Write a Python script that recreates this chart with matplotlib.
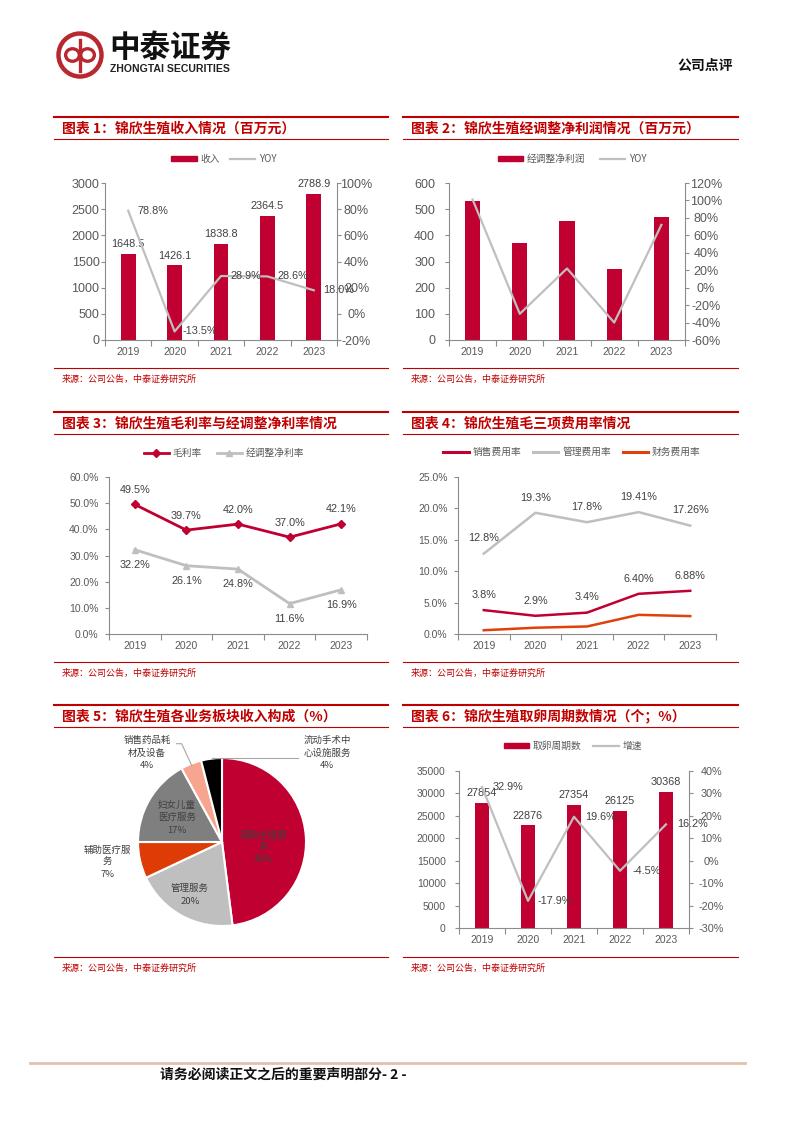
import numpy as np
import matplotlib
matplotlib.use("Agg")
import matplotlib.pyplot as plt
from matplotlib.patches import Patch, Circle, Ellipse
from matplotlib.lines import Line2D

plt.rcParams['font.family'] = ['Liberation Sans', 'Noto Sans CJK SC', 'DejaVu Sans']
CJK = ['Noto Sans CJK SC', 'DejaVu Sans']

W, H = 793, 1122
RED = '#C00030'
DARKRED = '#C00000'
GRAY = '#BFBFBF'
ORANGE = '#E0400A'
TXT = '#404040'
TICK = '#595959'
SPINE = '#8C8C8C'

years = ['2019', '2020', '2021', '2022', '2023']

# 图表1 收入
revenue = [1648.5, 1426.1, 1838.8, 2364.5, 2788.9]
revenue_yoy = [78.8, -13.5, 28.9, 28.6, 18.0]
# 图表2 经调整净利润（无标签，按图读数）
adj_profit = [530, 370, 455, 272, 470]
adj_profit_yoy = [101, -30, 22, -40, 72]
# 图表3
gross_margin = [49.5, 39.7, 42.0, 37.0, 42.1]
adj_net_margin = [32.2, 26.1, 24.8, 11.6, 16.9]
# 图表4
sales_rate = [3.8, 2.9, 3.4, 6.40, 6.88]
sales_lbl = ['3.8%', '2.9%', '3.4%', '6.40%', '6.88%']
admin_rate = [12.8, 19.3, 17.8, 19.41, 17.26]
admin_lbl = ['12.8%', '19.3%', '17.8%', '19.41%', '17.26%']
fin_rate = [0.6, 1.0, 1.2, 3.05, 2.85]
# 图表5
seg_names = ['辅助生殖服\n务', '管理服务', '辅助医疗服\n务', '妇女儿童\n医疗服务',
             '销售药品耗\n材及设备', '流动手术中\n心设施服务']
seg_share = [48, 20, 7, 17, 4, 4]
seg_colors = [RED, GRAY, '#DD3C06', '#7F7F7F', '#F7A58E', '#000000']
# 图表6
cycles = [27854, 22876, 27354, 26125, 30368]
cycles_yoy = [32.9, -17.9, 19.6, -4.5, 16.2]

fig = plt.figure(figsize=(W / 100, H / 100), dpi=100)


def px_axes(x0, y0, x1, y1):
    return fig.add_axes([x0 / W, 1 - y1 / H, (x1 - x0) / W, (y1 - y0) / H])


def hline(x0, x1, y, color, lw):
    fig.add_artist(Line2D([x0 / W, x1 / W], [1 - y / H, 1 - y / H],
                          color=color, lw=lw, transform=fig.transFigure))


def ftext(x, y, s, **kw):
    return fig.text(x / W, 1 - y / H, s, **kw)


def panel(x0, x1, ytop, title, ysrc):
    hline(x0, x1, ytop, DARKRED, 1.5)
    ftext(x0 + 8, ytop + 11, title, color=DARKRED, fontsize=10, fontweight='bold',
          family=CJK, va='center')
    hline(x0, x1, ytop + 22, DARKRED, 0.8)
    hline(x0, x1, ysrc, DARKRED, 0.8)
    ftext(x0 + 8, ysrc + 11, '来源：公司公告，中泰证券研究所', color=DARKRED,
          fontsize=6.5, family=CJK, va='center')


def legend(handles, labels, cx, cy, gap):
    fig.legend(handles, labels, loc='center', bbox_to_anchor=(cx / W, 1 - cy / H),
               ncol=len(handles), frameon=False, handlelength=2.6, handleheight=0.5,
               handletextpad=0.4, columnspacing=gap,
               prop={'family': CJK, 'size': 7}, labelcolor=TICK)


def style_x(ax):
    ax.set_xlim(-0.5, 4.5)
    ax.set_xticks(np.arange(-0.5, 5, 1))
    ax.set_xticklabels([])
    ax.set_xticks(range(5), minor=True)
    ax.set_xticklabels(years, minor=True)
    ax.tick_params(axis='x', which='major', length=4, color=SPINE, direction='out')
    ax.tick_params(axis='x', which='minor', length=0, pad=5, labelsize=7.5,
                   labelcolor=TICK)
    ax.spines['top'].set_visible(False)
    ax.spines['bottom'].set_color(SPINE)
    ax.spines['left'].set_color(SPINE)
    ax.spines['right'].set_visible(False)
    ax.patch.set_alpha(0)


def style_y(ax, ticks, labels, pad, size=7.5):
    ax.set_yticks(ticks)
    ax.set_yticklabels(labels)
    ax.tick_params(axis='y', length=3, color=SPINE, pad=pad, labelsize=size,
                   labelcolor=TICK)


def style_right(ax, ticks, labels, size=7.5, pad=12):
    ax.set_yticks(ticks)
    ax.set_yticklabels(labels, ha='center')
    ax.tick_params(axis='y', length=3, color=SPINE, pad=pad, labelsize=size,
                   labelcolor=TICK)
    for s in ['top', 'left', 'bottom']:
        ax.spines[s].set_visible(False)
    ax.spines['right'].set_color(SPINE)


# ---------------- 页眉 ----------------
lg = px_axes(55, 30, 105, 80)
lg.set_xlim(-1, 1)
lg.set_ylim(-1, 1)
lg.set_aspect('equal')
lg.axis('off')
lg.add_patch(Circle((0, 0), 0.86, fill=False, lw=3.2, ec='#B8282E'))
lg.add_patch(Ellipse((-0.3, 0), 0.55, 0.5, fill=False, lw=2.4, ec='#B8282E'))
lg.add_patch(Ellipse((0.3, 0), 0.55, 0.5, fill=False, lw=2.4, ec='#B8282E'))
lg.plot([0, 0], [-0.62, 0.62], color='#B8282E', lw=2.4)
ftext(109, 48, '中泰证券', fontsize=22, fontweight='bold', family=CJK, va='center',
      color='#111111')
ftext(110, 69, 'ZHONGTAI SECURITIES', fontsize=7.6, fontweight='bold', va='center',
      color='#222222')
ftext(705, 66, '公司点评', fontsize=10, fontweight='bold', family=CJK, va='center',
      ha='center', color='#111111')

# ---------------- 图表1 ----------------
panel(54, 388, 117, '图表 1：锦欣生殖收入情况（百万元）', 368)
ax1 = px_axes(105, 183, 337, 340)
ax1.bar(range(5), revenue, width=0.32, color=RED)
ax1.set_ylim(0, 3000)
style_x(ax1)
style_y(ax1, range(0, 3001, 500), [str(t) for t in range(0, 3001, 500)], 1, 9)
for i, v in enumerate(revenue):
    ax1.annotate(f'{v:.1f}', (i, v), xytext=(0, 3.5), textcoords='offset points',
                 ha='center', va='bottom', fontsize=7.8, color=TXT)
ax1r = ax1.twinx()
ax1r.plot(range(5), revenue_yoy, color=GRAY, lw=1.6)
ax1r.set_ylim(-20, 100)
style_right(ax1r, range(-20, 101, 20), [f'{t}%' for t in range(-20, 101, 20)], 9, 11)
for i, v in enumerate(revenue_yoy):
    ax1r.annotate(f'{v:.1f}%', (i, v), xytext=(18, 0), textcoords='offset points',
                  ha='center', va='center', fontsize=7.8, color=TXT)
legend([Patch(color=RED), Line2D([0], [0], color=GRAY, lw=1.6)], ['收入', 'YOY'],
       224, 159, 1.0)

# ---------------- 图表2 ----------------
panel(403, 738, 117, '图表 2：锦欣生殖经调整净利润情况（百万元）', 368)
ax2 = px_axes(449, 183, 685, 340)
ax2.bar(range(5), adj_profit, width=0.32, color=RED)
ax2.set_ylim(0, 600)
style_x(ax2)
style_y(ax2, range(0, 601, 100), [str(t) for t in range(0, 601, 100)], 7, 9)
ax2r = ax2.twinx()
ax2r.plot(range(5), adj_profit_yoy, color=GRAY, lw=1.6)
ax2r.set_ylim(-60, 120)
style_right(ax2r, range(-60, 121, 20), [f'{t}%' for t in range(-60, 121, 20)], 9, 12)
legend([Patch(color=RED), Line2D([0], [0], color=GRAY, lw=1.6)], ['经调整净利润', 'YOY'],
       572, 159, 1.5)

# ---------------- 图表3 ----------------
panel(54, 388, 412, '图表 3：锦欣生殖毛利率与经调整净利率情况', 662)
ax3 = px_axes(109, 477, 367, 634)
ax3.plot(range(5), gross_margin, color=RED, lw=2, marker='D', markersize=4.5)
ax3.plot(range(5), adj_net_margin, color=GRAY, lw=2, marker='^', markersize=5)
ax3.set_ylim(0, 60)
style_x(ax3)
style_y(ax3, range(0, 61, 10), [f'{t:.1f}%' for t in range(0, 61, 10)], 4.5)
for i, v in enumerate(gross_margin):
    ax3.annotate(f'{v:.1f}%', (i, v), xytext=(0, 10.5), textcoords='offset points',
                 ha='center', va='center', fontsize=7.8, color=TXT)
for i, v in enumerate(adj_net_margin):
    ax3.annotate(f'{v:.1f}%', (i, v), xytext=(0, -11), textcoords='offset points',
                 ha='center', va='center', fontsize=7.8, color=TXT)
legend([Line2D([0], [0], color=RED, lw=2, marker='D', markersize=4),
        Line2D([0], [0], color=GRAY, lw=2, marker='^', markersize=4.5)],
       ['毛利率', '经调整净利率'], 224, 453, 1.5)

# ---------------- 图表4 ----------------
panel(403, 738, 412, '图表 4：锦欣生殖毛三项费用率情况', 662)
ax4 = px_axes(458, 477, 716, 634)
ax4.plot(range(5), sales_rate, color=RED, lw=1.8)
ax4.plot(range(5), admin_rate, color=GRAY, lw=1.8)
ax4.plot(range(5), fin_rate, color=ORANGE, lw=1.8)
ax4.set_ylim(0, 25)
style_x(ax4)
style_y(ax4, range(0, 26, 5), [f'{t:.1f}%' for t in range(0, 26, 5)], 4.5)
for i, v in enumerate(sales_rate):
    ax4.annotate(sales_lbl[i], (i, v), xytext=(0, 11), textcoords='offset points',
                 ha='center', va='center', fontsize=7.8, color=TXT)
for i, v in enumerate(admin_rate):
    ax4.annotate(admin_lbl[i], (i, v), xytext=(0, 11), textcoords='offset points',
                 ha='center', va='center', fontsize=7.8, color=TXT)
legend([Line2D([0], [0], color=RED, lw=2.2), Line2D([0], [0], color=GRAY, lw=2.2),
        Line2D([0], [0], color=ORANGE, lw=2.2)],
       ['销售费用率', '管理费用率', '财务费用率'], 572, 452, 1.2)

# ---------------- 图表5 ----------------
panel(54, 388, 705, '图表 5：锦欣生殖各业务板块收入构成（%）', 957)
ax5 = px_axes(122, 742, 322, 942)
wedges, _ = ax5.pie(seg_share, colors=seg_colors, startangle=90, counterclock=False,
                    wedgeprops=dict(edgecolor='white', linewidth=1.5))
ax5.set_xlim(-100 / 84, 100 / 84)
ax5.set_ylim(-100 / 84, 100 / 84)
ax5.set_aspect('equal')
ax5.axis('off')
label_pos = [(0.49, -0.06), (-0.38, -0.63), (-1.36, -0.24), (-0.54, 0.29),
             (-0.89, 1.06), (1.25, 1.06)]
for name, share, (lx, ly) in zip(seg_names, seg_share, label_pos):
    ax5.text(lx, ly, f'{name}\n{share}%', ha='center', va='center', fontsize=6.8,
             family=CJK, color=TXT, linespacing=1.45)
# 引导线
for k, (x_end, y_end) in [(4, (-0.54, 1.17)), (5, (0.91, 1.01))]:
    w = wedges[k]
    mid = np.deg2rad((w.theta1 + w.theta2) / 2)
    px, py = np.cos(mid) * 0.98, np.sin(mid) * 0.98
    if k == 4:
        ax5.plot([px, x_end + 0.06, x_end], [py, y_end, y_end], color='#A6A6A6', lw=0.8)
    else:
        ax5.plot([px, x_end], [py + 0.03, py + 0.03], color='#A6A6A6', lw=0.8)

# ---------------- 图表6 ----------------
panel(403, 738, 705, '图表 6：锦欣生殖取卵周期数情况（个；%）', 957)
ax6 = px_axes(459, 771, 689, 928)
ax6.bar(range(5), cycles, width=0.32, color=RED)
ax6.set_ylim(0, 35000)
style_x(ax6)
style_y(ax6, range(0, 35001, 5000), [str(t) for t in range(0, 35001, 5000)], 6.5)
for i, v in enumerate(cycles):
    ax6.annotate(f'{v}', (i, v), xytext=(0, 3.5), textcoords='offset points',
                 ha='center', va='bottom', fontsize=7.8, color=TXT)
ax6r = ax6.twinx()
ax6r.plot(range(5), cycles_yoy, color=GRAY, lw=1.6)
ax6r.set_ylim(-30, 40)
style_right(ax6r, range(-30, 41, 10), [f'{t}%' for t in range(-30, 41, 10)], 7.8, 13)
for i, v in enumerate(cycles_yoy):
    ax6r.annotate(f'{v:.1f}%', (i, v), xytext=(19, 0), textcoords='offset points',
                  ha='center', va='center', fontsize=7.8, color=TXT)
legend([Patch(color=RED), Line2D([0], [0], color=GRAY, lw=1.6)], ['取卵周期数', '增速'],
       573, 746, 1.2)

# ---------------- 页脚 ----------------
hline(30, 745, 1063, '#DFC2AC', 2)
ftext(160, 1075, '请务必阅读正文之后的重要声明部分- 2 -', fontsize=10, fontweight='bold',
      family=CJK, va='center', color='#111111')

fig.savefig('out.png', dpi=100)
